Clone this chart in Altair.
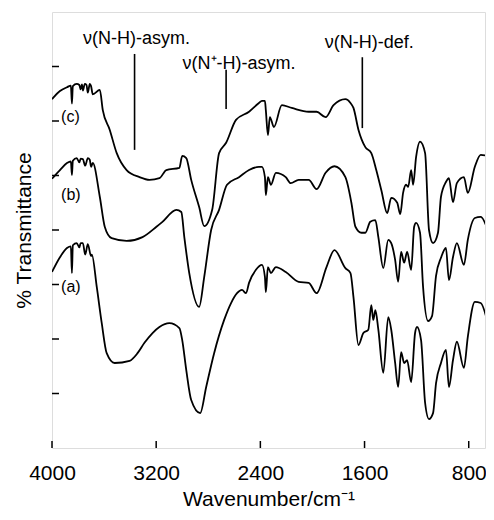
import altair as alt
import pandas as pd

# ---- spectra (wavenumber / cm-1, offset transmittance) ----
wn_c = [4000, 3939, 3885, 3855, 3847, 3840, 3810, 3790, 3780, 3770, 3763, 3748, 3735, 3725, 3710, 3700, 3687,
        3633, 3610, 3557, 3503, 3427, 3328, 3251, 3175, 3122, 3022, 3000, 2969, 2931, 2870, 2831, 2770,
        2717, 2663, 2587, 2487, 2411, 2388, 2365, 2358, 2342, 2327, 2296, 2235, 2159, 2029, 1968, 1899,
        1838, 1747, 1708, 1685, 1647, 1594, 1548, 1510, 1471, 1426, 1395, 1349, 1326, 1304, 1281, 1265,
        1242, 1227, 1204, 1174, 1135, 1105, 1074, 1036, 1013, 975, 952, 921, 891, 837, 807, 753, 708, 654]
t_c = [64.0, 65.5, 66.2, 66.5, 63.2, 66.4, 66.8, 66.6, 65.8, 66.7, 65.6, 66.8, 66.6, 65.2, 66.8, 66.4, 64.9, 65.7,
       62.0, 58.4, 54.1, 51.0, 49.7, 49.2, 49.5, 51.0, 51.4, 53.6, 53.2, 49.2, 44.2, 40.7, 43.7, 54.1,
       56.0, 60.2, 61.7, 63.3, 63.7, 63.7, 62.0, 57.4, 60.7, 58.9, 62.9, 62.4, 61.7, 61.7, 60.7, 62.9,
       64.0, 63.3, 62.4, 58.4, 55.2, 54.1, 51.0, 47.3, 43.1, 45.9, 45.0, 42.9, 46.8, 48.3, 47.9, 51.0,
       48.3, 53.4, 56.2, 54.1, 40.0, 37.6, 39.5, 46.1, 48.8, 49.5, 45.1, 48.6, 49.7, 46.8, 51.6, 53.8, 53.6, 51.6]

wn_b = [4000, 3939, 3885, 3855, 3847, 3840, 3810, 3790, 3780, 3763, 3745, 3725, 3710, 3700, 3687, 3633, 3595, 3542,
        3427, 3305, 3198, 3152, 3045, 3007, 2984, 2946, 2870, 2831, 2778, 2717, 2656, 2564, 2487, 2411,
        2388, 2365, 2358, 2342, 2319, 2281, 2205, 2167, 2106, 2029, 1968, 1899, 1831, 1747, 1701, 1670,
        1624, 1594, 1556, 1517, 1494, 1456, 1418, 1395, 1365, 1342, 1319, 1296, 1273, 1242, 1219, 1204,
        1174, 1151, 1112, 1082, 1051, 1013, 975, 952, 921, 891, 837, 807, 753, 708, 654]
t_b = [49.4, 51.0, 52.3, 52.6, 50.1, 52.7, 53.2, 52.4, 53.1, 53.0, 51.8, 53.2, 52.9, 51.6, 52.3, 46.1, 40.6, 38.5,
       38.0, 38.7, 40.6, 41.5, 43.7, 43.3, 38.7, 32.1, 25.9, 31.4, 40.0, 43.7, 48.3, 49.7, 51.0, 51.6,
       51.6, 49.7, 46.4, 49.7, 48.3, 50.5, 49.7, 48.6, 49.2, 49.2, 47.5, 50.5, 51.7, 49.7, 45.0, 40.6,
       39.5, 39.5, 41.5, 41.8, 38.7, 33.0, 38.2, 37.6, 34.5, 30.5, 36.0, 34.0, 36.0, 32.7, 40.6, 41.3,
       39.5, 29.7, 23.3, 24.2, 31.6, 34.9, 36.7, 30.8, 35.0, 37.6, 33.6, 38.2, 42.2, 42.4, 40.0]

wn_a = [4000, 3939, 3885, 3855, 3847, 3840, 3810, 3790, 3780, 3763, 3745, 3725, 3700, 3694, 3656, 3618, 3580, 3519,
        3404, 3343, 3290, 3228, 3175, 3099, 3022, 3000, 2969, 2931, 2862, 2816, 2755, 2678, 2625, 2579,
        2541, 2510, 2487, 2434, 2388, 2365, 2358, 2342, 2319, 2281, 2205, 2106, 2029, 1968, 1892, 1831,
        1747, 1708, 1685, 1647, 1609, 1571, 1548, 1533, 1517, 1494, 1456, 1418, 1395, 1365, 1342, 1319,
        1296, 1273, 1242, 1212, 1197, 1166, 1135, 1105, 1074, 1051, 1013, 975, 952, 921, 891, 837, 807,
        753, 708, 654]
t_a = [32.3, 35.0, 36.7, 37.0, 32.1, 37.2, 37.6, 36.8, 37.6, 37.6, 35.5, 37.4, 35.2, 35.5, 29.5, 22.9, 17.4, 15.6,
       16.0, 17.4, 19.3, 21.1, 22.2, 22.9, 22.0, 19.8, 14.3, 8.8, 6.4, 11.2, 17.4, 23.5, 26.6, 28.4,
       29.0, 28.4, 30.3, 32.7, 33.6, 31.4, 28.6, 33.2, 32.1, 33.2, 32.3, 30.5, 30.3, 28.4, 33.2, 36.3,
       33.0, 32.1, 27.7, 18.9, 21.1, 21.7, 26.2, 23.5, 25.3, 21.7, 13.8, 24.0, 21.7, 15.6, 11.2, 17.6,
       15.6, 16.1, 12.1, 21.1, 22.2, 19.8, 8.3, 5.3, 6.4, 11.9, 15.6, 18.0, 11.2, 16.1, 19.5, 14.7, 20.4,
       26.8, 26.6, 22.9]

# ---- curve labels ----
lab_text = ["(c)", "(b)", "(a)"]
lab_wn = [3930, 3930, 3930]
lab_t = [60.7, 46.4, 29.5]

# ---- band annotations ----
ann_text = ["ν(N-H)-asym.", "ν(N⁺-H)-asym.", "ν(N-H)-def."]
ann_text_wn = [3351, 2564, 1563]
ann_text_t = [75.1, 70.5, 74.3]
ann_line_wn = [3366, 2663, 1617]
ann_line_top = [72.3, 69.4, 71.7]
ann_line_bot = [54.7, 62.2, 58.7]

# ---- axis ticks ----
x_tick_vals = [4000, 3200, 2400, 1600, 800]
y_tick_vals = [10, 20, 30, 40, 50, 60, 70]

FONT = "Liberation Sans"
W, H = 433, 436

rows = []
for name, wns, ts in (("c", wn_c, t_c), ("b", wn_b, t_b), ("a", wn_a, t_a)):
    for w, t in zip(wns, ts):
        rows.append({"wn": w, "t": t, "s": name})
spec = pd.DataFrame(rows)

xscale = alt.Scale(domain=[675, 4000], reverse=True, nice=False, zero=False)
yscale = alt.Scale(domain=[0, 80], nice=False, zero=False)

xax = alt.Axis(values=x_tick_vals, format="d", grid=False, ticks=False, tickSize=0, domain=False,
               labelFontSize=21, labelFont=FONT, labelColor="black", labelPadding=14,
               labelOverlap=False, labelFlush=False,
               title="Wavenumber/cm⁻¹", titleFontSize=21, titleFont=FONT, titleFontWeight="normal",
               titleColor="black", titlePadding=5)
yax = alt.Axis(labels=False, ticks=False, tickSize=0, domain=False, grid=False,
               title="% Transmittance", titleFontSize=21, titleFont=FONT, titleFontWeight="normal",
               titleColor="black", titlePadding=18)

lines = alt.Chart(spec).mark_line(color="black", strokeWidth=1.8, interpolate="monotone", clip=True).encode(
    x=alt.X("wn:Q", scale=xscale, axis=xax),
    y=alt.Y("t:Q", scale=yscale, axis=yax),
    detail="s:N",
)

xt = alt.Chart(pd.DataFrame({"v": x_tick_vals})).mark_rule(color="black", strokeWidth=1.5).encode(
    x=alt.X("v:Q", scale=xscale), y=alt.value(H), y2=alt.value(H - 7))
yt = alt.Chart(pd.DataFrame({"v": y_tick_vals})).mark_rule(color="black", strokeWidth=1.5).encode(
    y=alt.Y("v:Q", scale=yscale), x=alt.value(0), x2=alt.value(7))

labs = alt.Chart(pd.DataFrame({"txt": lab_text, "wn": lab_wn, "t": lab_t})).mark_text(
    align="left", baseline="middle", fontSize=16, font=FONT, color="black").encode(
    x=alt.X("wn:Q", scale=xscale), y=alt.Y("t:Q", scale=yscale), text="txt:N")

ann_df = pd.DataFrame({"txt": ann_text, "twn": ann_text_wn, "tt": ann_text_t,
                       "lwn": ann_line_wn, "ltop": ann_line_top, "lbot": ann_line_bot})
ann_t = alt.Chart(ann_df).mark_text(align="center", baseline="middle", fontSize=18, font=FONT,
                                    color="black").encode(
    x=alt.X("twn:Q", scale=xscale), y=alt.Y("tt:Q", scale=yscale), text="txt:N")
ann_l = alt.Chart(ann_df).mark_rule(color="black", strokeWidth=1.6).encode(
    x=alt.X("lwn:Q", scale=xscale), y=alt.Y("ltop:Q", scale=yscale), y2="lbot:Q")

chart = alt.layer(lines, xt, yt, labs, ann_l, ann_t).properties(
    width=W, height=H,
    autosize=alt.AutoSizeParams(type="none"),
    padding={"left": 44, "top": 4, "right": 1, "bottom": 64},
).configure_view(stroke="black", strokeWidth=1.6).configure(background="white")

chart.save("out.html", embed_options={"renderer": "svg", "actions": False})
